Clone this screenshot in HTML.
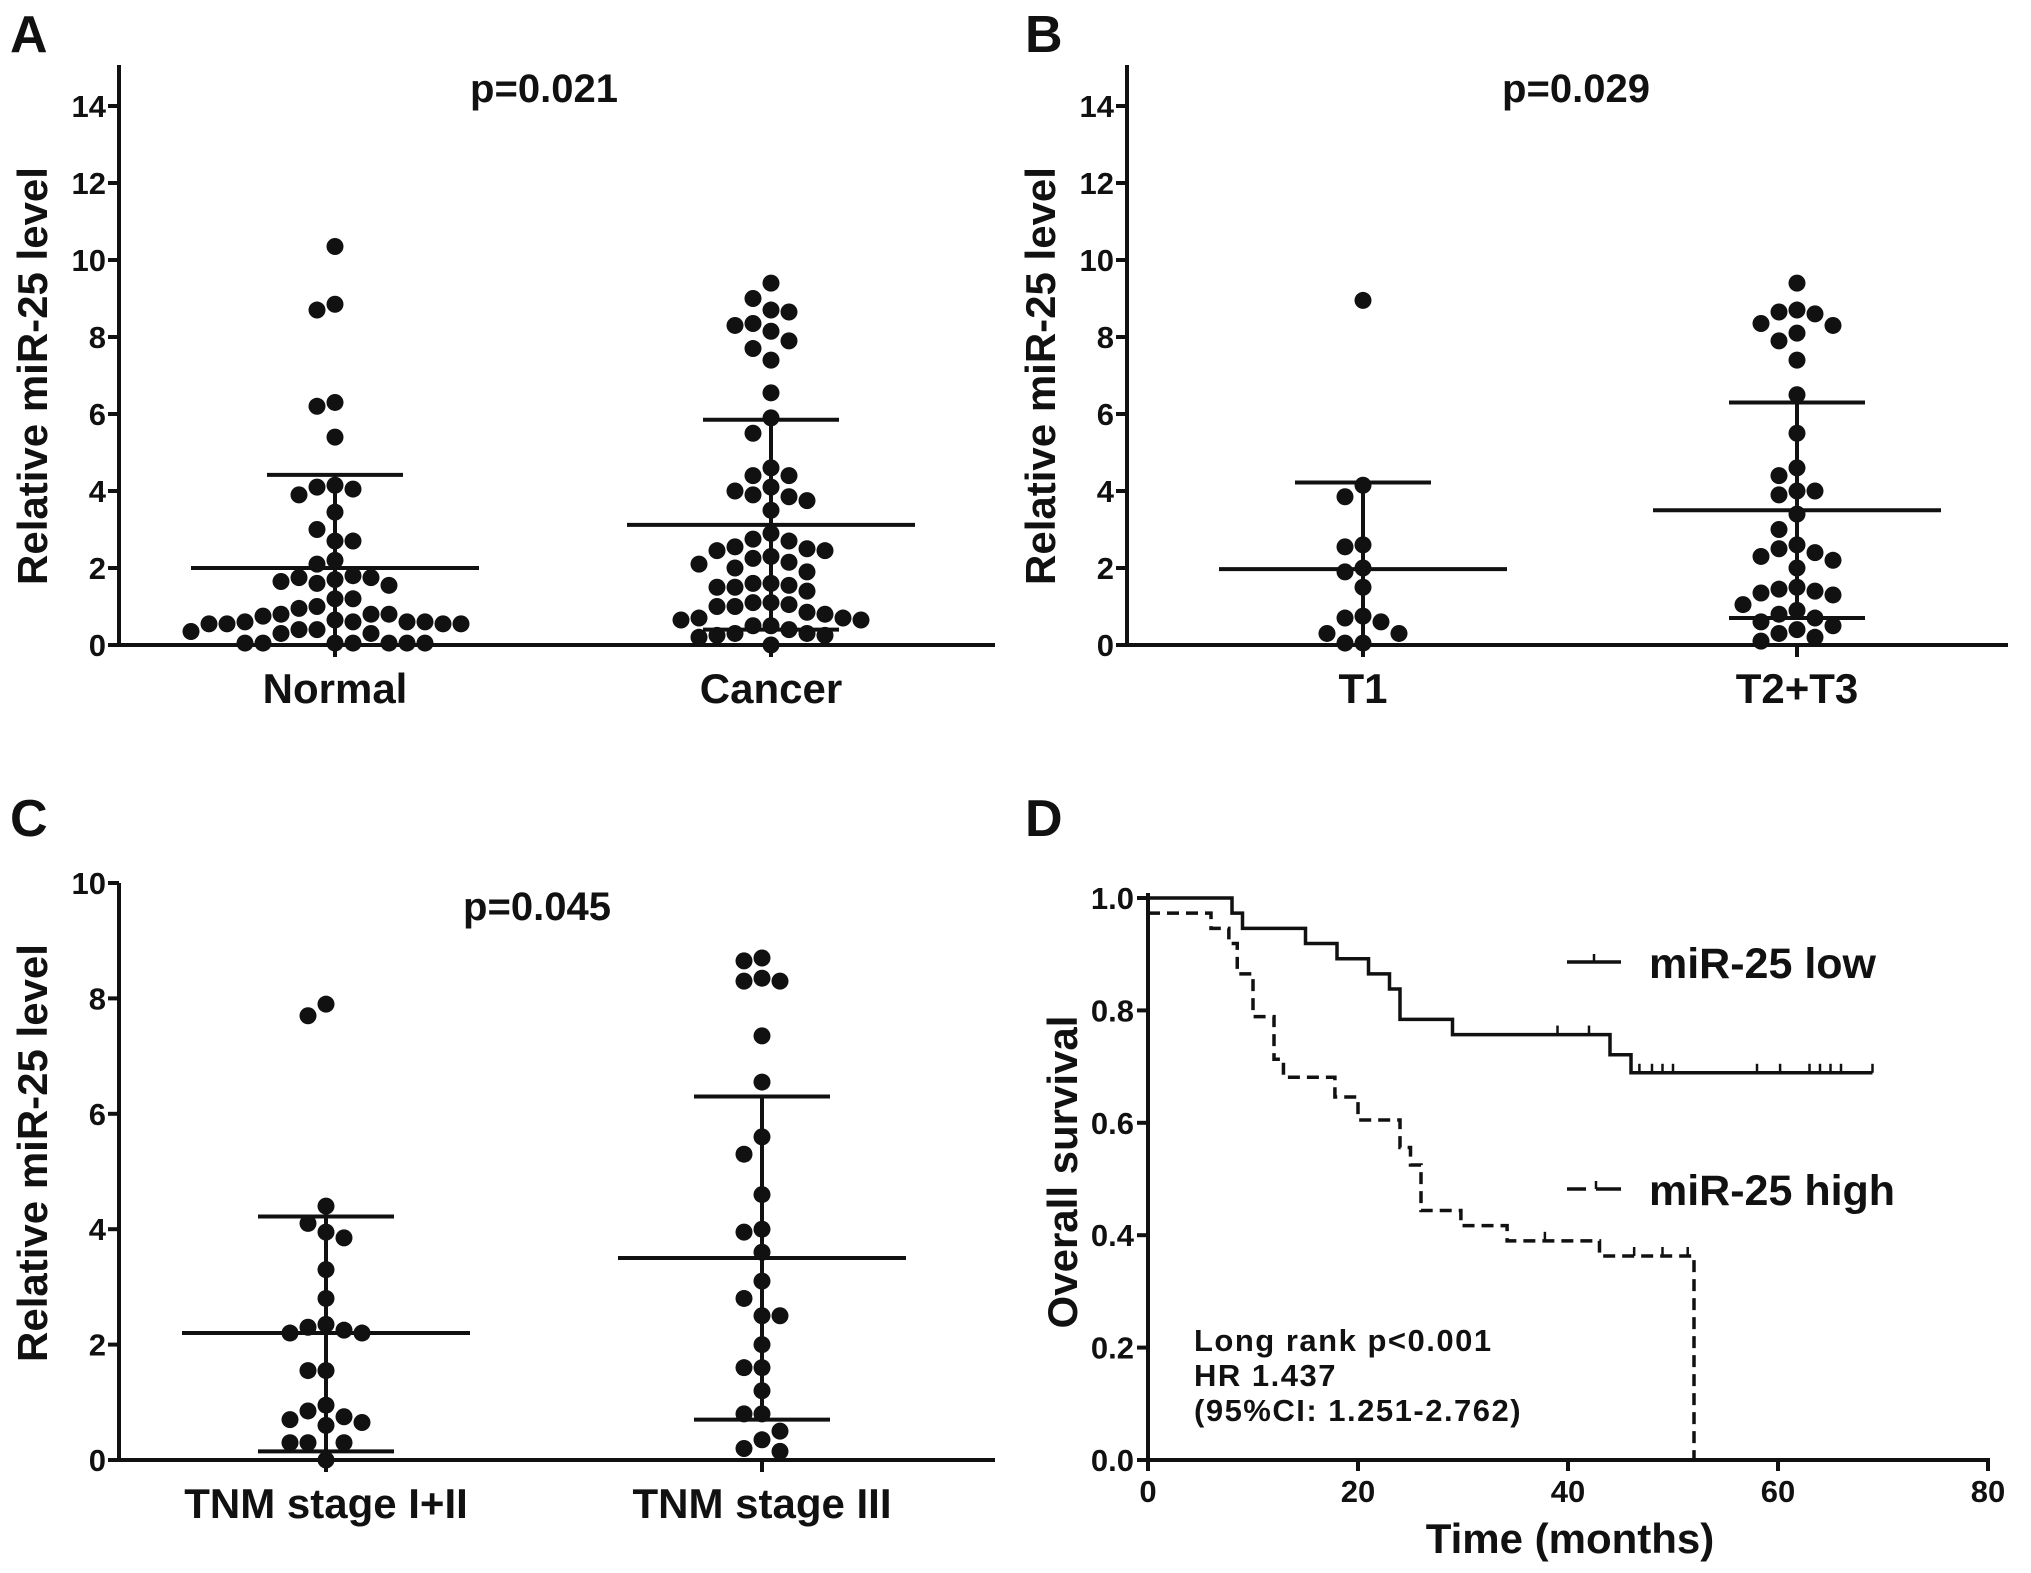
<!DOCTYPE html>
<html><head><meta charset="utf-8"><style>
html,body{margin:0;padding:0;background:#fff}
svg{display:block}
text{font-family:"Liberation Sans",Arial,sans-serif;font-weight:bold;fill:#111}
</style></head><body>
<svg id="fig" width="2031" height="1573" viewBox="0 0 2031 1573" xmlns="http://www.w3.org/2000/svg">
<text x="10" y="52" font-size="52">A</text>
<text x="1025" y="52" font-size="52">B</text>
<text x="10" y="836" font-size="52">C</text>
<text x="1025" y="836" font-size="52">D</text>
</svg>
<script>
// ---------- data ----------
const normalVals=[10.35,8.85,8.7,6.3,6.2,5.4,4.15,4.1,4.05,3.9,3.45,3.0,2.7,2.7,2.2,2.1,1.8,1.75,1.75,1.7,1.65,1.6,1.55,1.2,1.2,1.0,0.95,0.8,0.8,0.8,0.75,0.65,0.6,0.6,0.6,0.6,0.55,0.55,0.55,0.55,0.4,0.4,0.35,0.3,0.3,0.05,0.05,0.05,0.05,0.05,0.05,0.05];
const cancerVals=[9.4,9.0,8.7,8.65,8.35,8.3,8.15,7.9,7.7,7.4,6.55,5.9,5.5,4.6,4.4,4.4,4.1,4.0,3.9,3.85,3.75,3.5,2.9,2.75,2.7,2.55,2.5,2.45,2.45,2.3,2.25,2.15,2.1,2.0,1.9,1.6,1.6,1.55,1.5,1.5,1.4,1.1,1.1,1.05,1.0,1.0,0.85,0.8,0.7,0.7,0.65,0.65,0.5,0.5,0.4,0.3,0.3,0.25,0.25,0.2,0.0];
const t1Vals=[8.95,4.15,3.85,2.6,2.55,2.0,1.9,1.5,0.75,0.7,0.6,0.3,0.3,0.05,0.05];
const t23Vals=[9.4,8.7,8.65,8.6,8.35,8.3,8.1,7.9,7.4,6.5,5.5,4.6,4.4,4.0,4.0,3.9,3.4,3.0,2.6,2.5,2.4,2.3,2.2,2.0,1.5,1.45,1.4,1.35,1.3,1.05,0.9,0.8,0.7,0.6,0.5,0.4,0.3,0.2,0.1];
const tnm12Vals=[7.9,7.7,4.4,4.1,3.95,3.85,3.3,2.8,2.35,2.3,2.25,2.2,2.2,1.55,1.55,0.95,0.85,0.75,0.7,0.65,0.6,0.3,0.3,0.3,0.0];
const tnm3Vals=[8.7,8.65,8.35,8.3,8.3,7.35,6.55,5.6,5.3,4.6,4.0,3.95,3.6,3.1,2.8,2.5,2.5,2.0,1.6,1.6,1.2,0.8,0.8,0.5,0.35,0.2,0.15];
// mean, upper, lower error bars
const statsA=[[2.0,4.42,-0.25],[3.12,5.85,0.4]];
const statsB=[[1.97,4.22,-0.3],[3.5,6.3,0.7]];
const statsC=[[2.2,4.22,0.15],[3.5,6.3,0.7]];
const ticksAB=[0,2,4,6,8,10,12,14];
const ticksC=[0,2,4,6,8,10];
// KM
const lowTimes=[0,8,9,15,18,21,23,24,29,44,46,69];
const lowSurv=[1.0,0.973,0.946,0.919,0.892,0.865,0.838,0.784,0.757,0.721,0.689,0.689];
const lowCensor=[39,42,46.8,48,49,50,58,60.2,63,64,65,66,69];
const highTimes=[0,6,7.7,8.5,10,12,12.9,17.8,20,24,25,26,29.8,34.2,43,52];
const highSurv=[0.973,0.946,0.919,0.865,0.789,0.713,0.681,0.646,0.605,0.556,0.525,0.444,0.417,0.39,0.363,0.0];
const highCensor=[37.8,46.3,49,51.4];
const ticksX_D=[0,20,40,60,80];
const ticksY_D=[0,0.2,0.4,0.6,0.8,1.0];

const NS="http://www.w3.org/2000/svg";
const svg=document.getElementById('fig');
function mk(tag,attrs,parent){const e=document.createElementNS(NS,tag);for(const k in attrs)e.setAttribute(k,attrs[k]);(parent||svg).appendChild(e);return e;}
function txt(x,y,s,size,anchor,parent){const t=mk('text',{x:x,y:y,'font-size':size,'text-anchor':anchor||'middle'},parent);t.textContent=s;return t;}

function scatterPanel(o){
  const g=mk('g',{});
  
  
  const y=v=>o.y0-v*o.ys;
  const ya=mk('line',{x1:o.ax,y1:o.top,x2:o.ax,y2:o.y0+2,stroke:'#111','stroke-width':4},g);
  
  
  const xa=mk('line',{x1:o.ax-2,y1:o.y0,x2:o.xend,y2:o.y0,stroke:'#111','stroke-width':4},g);
  
  
  o.ticks.forEach(t=>{
    mk('line',{x1:o.ax-11,y1:y(t),x2:o.ax,y2:y(t),stroke:'#111','stroke-width':4},g);
    const tl=txt(o.ax-13,y(t)+11,String(t),31,'end',g);
    
    
  });
  const yt=txt(0,0,'Relative miR-25 level',42,'middle',g);
  yt.setAttribute('transform','translate('+(o.ax-72)+','+o.ytitleY+') rotate(-90)');
  
  
  const pv=txt(o.px,o.top+37,o.p,40,'middle',g);
  
  
  o.groups.forEach((grp,gi)=>{
    const cx=o.centers[gi];
    mk('line',{x1:cx,y1:o.y0,x2:cx,y2:o.y0+12,stroke:'#111','stroke-width':4},g);
    const cl=txt(cx,o.y0+58,o.labels[gi],42,'middle',g);
    
    
    const r=8.5, dx=18, placed=[];
    const vals=grp.slice().sort((a,b)=>b-a);
    vals.forEach(v=>{
      const py=y(v);
      for(let k=0;k<40;k++){
        const off=(k%2===0?1:-1)*Math.ceil(k/2)*dx;
        const px=cx+off;
        if(placed.every(p=>Math.hypot(p[0]-px,p[1]-py)>=2*r+0.5)){placed.push([px,py]);break;}
      }
    });
    placed.forEach(p=>{
      const c=mk('circle',{cx:p[0],cy:p[1],r:r,fill:'#111'},g);
      
      
    });
    const s=o.stats[gi];
    const eb=mk('g',{stroke:'#111','stroke-width':4},g);
    
    
    mk('line',{x1:cx-144,y1:y(s[0]),x2:cx+144,y2:y(s[0])},eb);
    mk('line',{x1:cx-68,y1:y(s[1]),x2:cx+68,y2:y(s[1])},eb);
    if(s[2]>=0) mk('line',{x1:cx-68,y1:y(s[2]),x2:cx+68,y2:y(s[2])},eb);
    mk('line',{x1:cx,y1:y(s[1]),x2:cx,y2:y(s[2])},eb);
  });
}
scatterPanel({name:'panel-a',ax:119,y0:645,ys:38.5,top:65,xend:995,ticks:ticksAB,ytitleY:376,px:544,p:'p=0.021',
  centers:[335,771],labels:['Normal','Cancer'],groups:[normalVals,cancerVals],stats:statsA});
scatterPanel({name:'panel-b',ax:1127,y0:645,ys:38.5,top:65,xend:2008,ticks:ticksAB,ytitleY:376,px:1576,p:'p=0.029',
  centers:[1363,1797],labels:['T1','T2+T3'],groups:[t1Vals,t23Vals],stats:statsB});
scatterPanel({name:'panel-c',ax:119,y0:1460,ys:57.7,top:883,xend:995,ticks:ticksC,ytitleY:1153,px:537,p:'p=0.045',
  centers:[326,762],labels:['TNM stage I+II','TNM stage III'],groups:[tnm12Vals,tnm3Vals],stats:statsC});

// ---------- KM panel ----------
(function(){
  const g=mk('g',{});
  
  
  const X=t=>1148+t*10.5, Y=s=>1460-s*562;
  const ya=mk('line',{x1:1148,y1:893,x2:1148,y2:1462,stroke:'#111','stroke-width':4},g);
  
  
  const xa=mk('line',{x1:1146,y1:1460,x2:1990,y2:1460,stroke:'#111','stroke-width':4},g);
  
  
  ticksY_D.forEach(t=>{
    mk('line',{x1:1137,y1:Y(t),x2:1148,y2:Y(t),stroke:'#111','stroke-width':4},g);
    const l=txt(1134,Y(t)+11,t.toFixed(1),31,'end',g);
    
    
  });
  ticksX_D.forEach(t=>{
    mk('line',{x1:X(t),y1:1460,x2:X(t),y2:1471,stroke:'#111','stroke-width':4},g);
    const l=txt(X(t),1502,String(t),31,'middle',g);
    
    
  });
  const yt=txt(0,0,'Overall survival',42,'middle',g);
  yt.setAttribute('transform','translate(1077,1172) rotate(-90)');
  
  
  const xt=txt(1570,1553,'Time (months)',42,'middle',g);
  
  
  function stepPath(ts,ss){
    let d='M'+X(ts[0])+','+Y(ss[0]);
    for(let i=1;i<ts.length;i++){d+=' H'+X(ts[i])+' V'+Y(ss[i]);}
    return d;
  }
  function survAt(ts,ss,t){let s=ss[0];for(let i=0;i<ts.length;i++){if(ts[i]<=t)s=ss[i];}return s;}
  const low=mk('path',{d:stepPath(lowTimes,lowSurv),fill:'none',stroke:'#111','stroke-width':3.5},g);
  
  
  lowCensor.forEach(t=>{
    const s=survAt(lowTimes,lowSurv,t);
    const c=mk('line',{x1:X(t),y1:Y(s)-9,x2:X(t),y2:Y(s),stroke:'#111','stroke-width':2.5},g);
    
    
  });
  const high=mk('path',{d:stepPath(highTimes,highSurv),fill:'none',stroke:'#111','stroke-width':3.5,'stroke-dasharray':'12,7'},g);
  
  
  highCensor.forEach(t=>{
    const s=survAt(highTimes,highSurv,t);
    const c=mk('line',{x1:X(t),y1:Y(s)-9,x2:X(t),y2:Y(s),stroke:'#111','stroke-width':2.5},g);
    
    
  });
  const l1=mk('g',{},g);
  
  
  mk('line',{x1:1567,y1:962,x2:1621,y2:962,stroke:'#111','stroke-width':3.5},l1);
  mk('line',{x1:1594,y1:954,x2:1594,y2:962,stroke:'#111','stroke-width':2.5},l1);
  txt(1649,978,'miR-25 low',43,'start',l1);
  const l2=mk('g',{},g);
  
  
  mk('path',{d:'M1567,1189 H1586 M1596,1189 H1621',stroke:'#111','stroke-width':3.5,fill:'none'},l2);
  mk('line',{x1:1596,y1:1181,x2:1596,y2:1189,stroke:'#111','stroke-width':2.5},l2);
  txt(1649,1205,'miR-25 high',43,'start',l2);
  const ann=mk('g',{'letter-spacing':'1.5'},g);
  
  
  txt(1194,1351,'Long rank p<0.001',31,'start',ann);
  txt(1194,1386,'HR 1.437',31,'start',ann);
  txt(1194,1421,'(95%CI: 1.251-2.762)',31,'start',ann);
})();
</script>
</body></html>
